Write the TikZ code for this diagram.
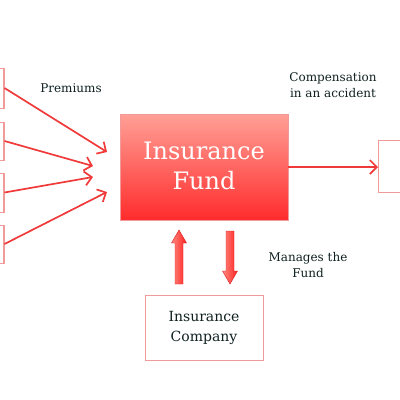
\documentclass[tikz,border=0pt]{standalone}
\usepackage{fontspec}
\setmainfont{DejaVu Serif}
\usetikzlibrary{arrows.meta}
\definecolor{arrowred}{HTML}{F03A3A}
\definecolor{blockred}{HTML}{FF2020}
\definecolor{blocklight}{HTML}{FF8A80}
\definecolor{boxedge}{HTML}{F09A9A}
\definecolor{fundtop}{HTML}{FFA096}
\definecolor{fundbot}{HTML}{FF2C2C}
\definecolor{labeltxt}{HTML}{102020}
\tikzset{
  srcbox/.style={draw=boxedge, line width=1pt, fill=white, minimum width=30pt, minimum height=40pt, inner sep=0pt},
  conn/.style={draw=arrowred, line width=1.7pt, -{Straight Barb[length=7pt,width=14pt,line width=1.7pt]}},
  lbl/.style={text=labeltxt, font=\fontsize{12}{16}\selectfont, align=center, inner sep=0pt},
  blockarrow/.style={left color=blocklight, right color=blockred, draw=blockred!85!black, line width=0.4pt}
}
\begin{document}
\begin{tikzpicture}[x=1pt,y=-1pt]
\useasboundingbox (0,0) rectangle (400,400);
\clip (0,0) rectangle (400,400);
% left source boxes
\node[srcbox] (s1) at (-11,88) {};
\node[srcbox, minimum height=38pt] (s2) at (-11,141) {};
\node[srcbox, minimum height=39pt] (s3) at (-11,192.5) {};
\node[srcbox, minimum height=38pt] (s4) at (-11,244) {};
% fund
\node[draw=boxedge, line width=0.6pt, top color=fundtop, bottom color=fundbot, minimum width=168pt, minimum height=106pt, inner sep=0pt] (fund) at (204,167) {};
\node[text=white, font=\fontsize{24}{30}\selectfont, align=center] (fundtxt) at (204,166) {Insurance\\Fund};
% right box
\node[draw=boxedge, line width=1pt, fill=white, minimum width=50pt, minimum height=52pt, inner sep=0pt, anchor=west] (dest) at (378,166) {};
% company
\node[draw=boxedge, line width=1pt, fill=white, minimum width=118pt, minimum height=65pt, align=center, text=labeltxt, font=\fontsize{14}{20}\selectfont] (comp) at (204,327.5) {Insurance\\Company};
% arrow targets
\coordinate (t1) at (107,152);
\coordinate (t2) at (93,166);
\coordinate (t3) at (93,177);
\coordinate (t4) at (107,192);
\draw[conn] (s1.east) -- (t1);
\draw[conn] (s2.east) -- (t2);
\draw[conn] (s3.east) -- (t3);
\draw[conn] (s4.east) -- (t4);
\draw[conn] (fund.east |- 0,167) -- (dest.west |- 0,167);
% block arrows between fund and company
\shade[blockarrow] (179,230) -- (186.5,243) -- (183,243) -- (183,284) -- (175,284) -- (175,243) -- (171.5,243) -- cycle;
\shade[blockarrow] (230,284) -- (237.5,271) -- (234,271) -- (234,231) -- (226,231) -- (226,271) -- (222.5,271) -- cycle;
% labels
\node[lbl] (prem) at (71,88.5) {Premiums};
\node[lbl] (compens) at (333,85.5) {Compensation\\in an accident};
\node[lbl] (manage) at (308,265) {Manages the\\Fund};
\end{tikzpicture}
\end{document}
